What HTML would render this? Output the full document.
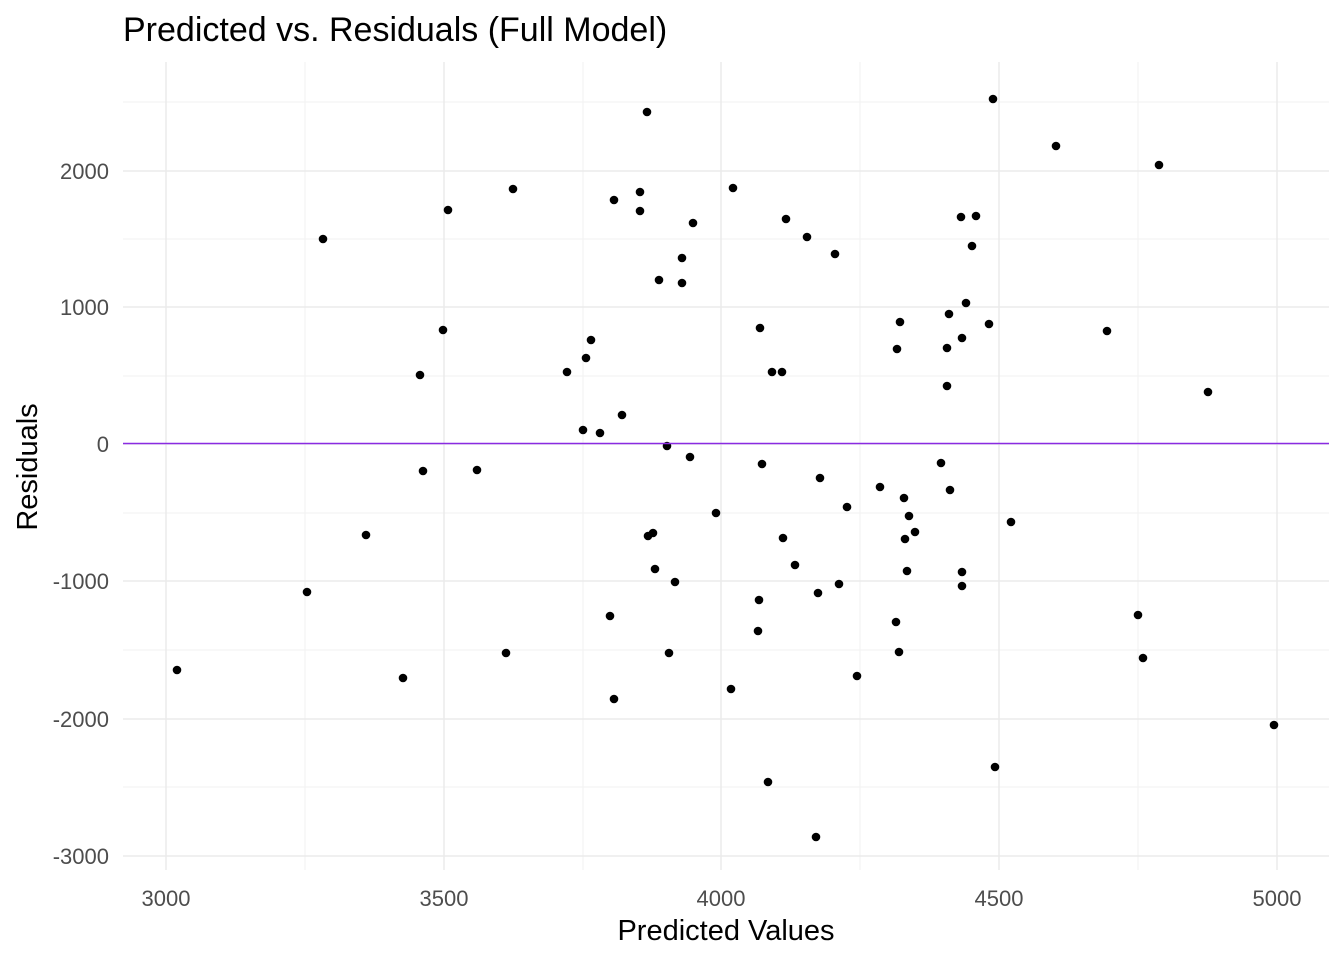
<!DOCTYPE html>
<html><head><style>body{margin:0;background:#fff}svg{display:block}</style></head><body>
<svg width="1344" height="960" xmlns="http://www.w3.org/2000/svg" font-family="Liberation Sans, Arial, sans-serif">
<rect width="1344" height="960" fill="#fff"/>
<g stroke="#f2f2f2" stroke-width="1">
<line x1="123" x2="1329" y1="102" y2="102"/><line x1="123" x2="1329" y1="239" y2="239"/><line x1="123" x2="1329" y1="376" y2="376"/><line x1="123" x2="1329" y1="513" y2="513"/><line x1="123" x2="1329" y1="650" y2="650"/><line x1="123" x2="1329" y1="787" y2="787"/>
<line y1="62" y2="870" x1="305" x2="305"/><line y1="62" y2="870" x1="583" x2="583"/><line y1="62" y2="870" x1="860" x2="860"/><line y1="62" y2="870" x1="1138" x2="1138"/>
</g>
<g stroke="#ebebeb" stroke-width="1.5">
<line x1="123" x2="1329" y1="171" y2="171"/><line x1="123" x2="1329" y1="307" y2="307"/><line x1="123" x2="1329" y1="444" y2="444"/><line x1="123" x2="1329" y1="581" y2="581"/><line x1="123" x2="1329" y1="719" y2="719"/><line x1="123" x2="1329" y1="856" y2="856"/>
<line y1="62" y2="870" x1="166" x2="166"/><line y1="62" y2="870" x1="444" x2="444"/><line y1="62" y2="870" x1="721" x2="721"/><line y1="62" y2="870" x1="999" x2="999"/><line y1="62" y2="870" x1="1277" x2="1277"/>
</g>
<g fill="#000">
<circle cx="177" cy="670" r="4.3"/><circle cx="307" cy="592" r="4.3"/><circle cx="323" cy="239" r="4.3"/><circle cx="366" cy="535" r="4.3"/><circle cx="403" cy="678" r="4.3"/><circle cx="420" cy="375" r="4.3"/><circle cx="423" cy="471" r="4.3"/><circle cx="443" cy="330" r="4.3"/><circle cx="448" cy="210" r="4.3"/><circle cx="477" cy="470" r="4.3"/><circle cx="506" cy="653" r="4.3"/><circle cx="513" cy="189" r="4.3"/><circle cx="567" cy="372" r="4.3"/><circle cx="583" cy="430" r="4.3"/><circle cx="586" cy="358" r="4.3"/><circle cx="591" cy="340" r="4.3"/><circle cx="600" cy="433" r="4.3"/><circle cx="610" cy="616" r="4.3"/><circle cx="614" cy="200" r="4.3"/><circle cx="614" cy="699" r="4.3"/><circle cx="622" cy="415" r="4.3"/><circle cx="640" cy="192" r="4.3"/><circle cx="640" cy="211" r="4.3"/><circle cx="647" cy="112" r="4.3"/><circle cx="648" cy="536" r="4.3"/><circle cx="653" cy="533" r="4.3"/><circle cx="655" cy="569" r="4.3"/><circle cx="659" cy="280" r="4.3"/><circle cx="667" cy="446" r="4.3"/><circle cx="669" cy="653" r="4.3"/><circle cx="675" cy="582" r="4.3"/><circle cx="682" cy="258" r="4.3"/><circle cx="682" cy="283" r="4.3"/><circle cx="690" cy="457" r="4.3"/><circle cx="693" cy="223" r="4.3"/><circle cx="716" cy="513" r="4.3"/><circle cx="731" cy="689" r="4.3"/><circle cx="733" cy="188" r="4.3"/><circle cx="758" cy="631" r="4.3"/><circle cx="759" cy="600" r="4.3"/><circle cx="760" cy="328" r="4.3"/><circle cx="762" cy="464" r="4.3"/><circle cx="768" cy="782" r="4.3"/><circle cx="772" cy="372" r="4.3"/><circle cx="782" cy="372" r="4.3"/><circle cx="783" cy="538" r="4.3"/><circle cx="786" cy="219" r="4.3"/><circle cx="795" cy="565" r="4.3"/><circle cx="807" cy="237" r="4.3"/><circle cx="816" cy="837" r="4.3"/><circle cx="818" cy="593" r="4.3"/><circle cx="820" cy="478" r="4.3"/><circle cx="835" cy="254" r="4.3"/><circle cx="839" cy="584" r="4.3"/><circle cx="847" cy="507" r="4.3"/><circle cx="857" cy="676" r="4.3"/><circle cx="880" cy="487" r="4.3"/><circle cx="896" cy="622" r="4.3"/><circle cx="897" cy="349" r="4.3"/><circle cx="899" cy="652" r="4.3"/><circle cx="900" cy="322" r="4.3"/><circle cx="904" cy="498" r="4.3"/><circle cx="905" cy="539" r="4.3"/><circle cx="907" cy="571" r="4.3"/><circle cx="909" cy="516" r="4.3"/><circle cx="915" cy="532" r="4.3"/><circle cx="941" cy="463" r="4.3"/><circle cx="947" cy="386" r="4.3"/><circle cx="947" cy="348" r="4.3"/><circle cx="949" cy="314" r="4.3"/><circle cx="950" cy="490" r="4.3"/><circle cx="961" cy="217" r="4.3"/><circle cx="962" cy="338" r="4.3"/><circle cx="962" cy="572" r="4.3"/><circle cx="962" cy="586" r="4.3"/><circle cx="966" cy="303" r="4.3"/><circle cx="972" cy="246" r="4.3"/><circle cx="976" cy="216" r="4.3"/><circle cx="989" cy="324" r="4.3"/><circle cx="993" cy="99" r="4.3"/><circle cx="995" cy="767" r="4.3"/><circle cx="1011" cy="522" r="4.3"/><circle cx="1056" cy="146" r="4.3"/><circle cx="1107" cy="331" r="4.3"/><circle cx="1138" cy="615" r="4.3"/><circle cx="1143" cy="658" r="4.3"/><circle cx="1159" cy="165" r="4.3"/><circle cx="1208" cy="392" r="4.3"/><circle cx="1274" cy="725" r="4.3"/>
</g>
<line x1="123" x2="1329" y1="443.5" y2="443.5" stroke="#8a2be2" stroke-width="1.6"/>
<g fill="#4d4d4d" font-size="22" text-anchor="end">
<text x="109" y="179">2000</text><text x="109" y="315">1000</text><text x="109" y="452">0</text><text x="109" y="589">-1000</text><text x="109" y="727">-2000</text><text x="109" y="864">-3000</text>
</g>
<g fill="#4d4d4d" font-size="22" text-anchor="middle">
<text x="166" y="906">3000</text><text x="444" y="906">3500</text><text x="721" y="906">4000</text><text x="999" y="906">4500</text><text x="1277" y="906">5000</text>
</g>
<text x="726" y="940" font-size="29" text-anchor="middle" fill="#000">Predicted Values</text>
<text transform="translate(37,467) rotate(-90)" font-size="29" text-anchor="middle" fill="#000">Residuals</text>
<text x="123" y="41" font-size="34" fill="#000">Predicted vs. Residuals (Full Model)</text>
</svg>
</body></html>
